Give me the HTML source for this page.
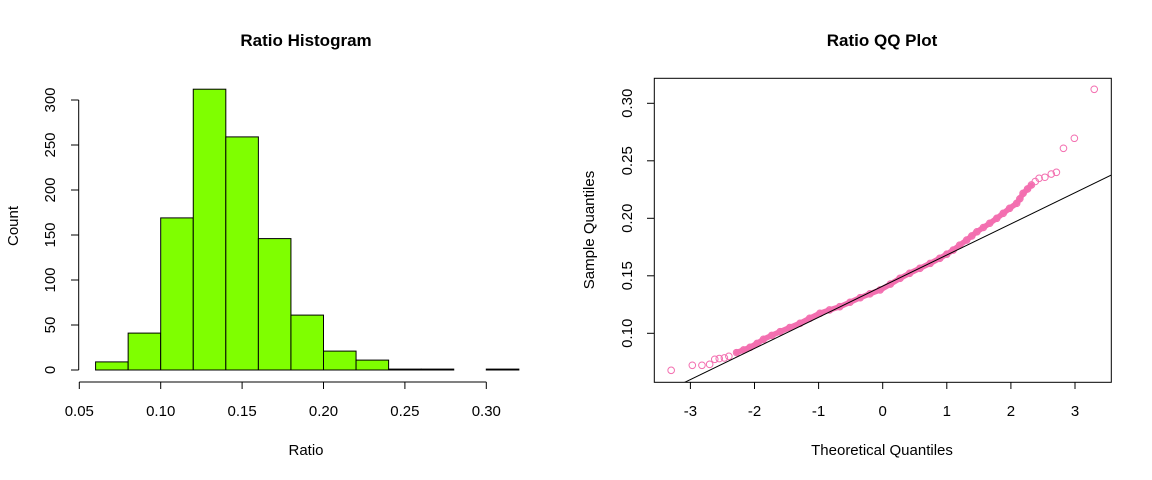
<!DOCTYPE html>
<html><head><meta charset="utf-8"><style>
html,body{margin:0;padding:0;background:#fff;}
svg{display:block;font-family:"Liberation Sans",Arial,sans-serif;}
</style></head><body>
<svg id="c" width="1152" height="480" xmlns="http://www.w3.org/2000/svg"></svg>
<script>
// ---- Histogram data ----
const binStarts = [0.06,0.08,0.10,0.12,0.14,0.16,0.18,0.20,0.22,0.24,0.26,0.28,0.30];
const binWidth = 0.02;
const binCounts = [9,41,169,312,259,146,61,21,11,1,1,0,1];
const histXTicks = [0.05,0.10,0.15,0.20,0.25,0.30];
const histXTickLabels = ["0.05","0.10","0.15","0.20","0.25","0.30"];
const histYTicks = [0,50,100,150,200,250,300];
// ---- QQ data ----
const qqTheo = [-3.30,-2.97,-2.82,-2.70,-2.62,-2.55,-2.47,-2.40,-2.28,-2.17,-2.07,-1.96,-1.86,-1.73,-1.60,-1.45,-1.29,-1.14,-0.98,-0.83,-0.67,-0.51,-0.35,-0.20,-0.04,0.12,0.27,0.42,0.58,0.74,0.89,1.00,1.10,1.20,1.31,1.39,1.47,1.57,1.67,1.78,1.88,1.98,2.09,2.14,2.19,2.26,2.32,2.38,2.44,2.53,2.63,2.71,2.82,2.99,3.30];
const qqSample = [0.0678,0.0722,0.0722,0.0730,0.0774,0.0780,0.0786,0.0800,0.0832,0.0855,0.0878,0.0912,0.0948,0.0982,0.1014,0.1050,0.1087,0.1130,0.1174,0.1203,0.1231,0.1270,0.1310,0.1343,0.1377,0.1428,0.1478,0.1522,0.1565,0.1608,0.1652,0.1688,0.1724,0.1766,0.1811,0.1847,0.1883,0.1920,0.1957,0.2000,0.2043,0.2087,0.2130,0.2170,0.2217,0.2255,0.2290,0.2320,0.2348,0.2357,0.2385,0.2400,0.2609,0.2696,0.3122];
const qqLineIntercept = 0.1410;
const qqLineSlope = 0.02708;
const qqXTicks = [-3,-2,-1,0,1,2,3];
const qqYTicks = [0.10,0.15,0.20,0.25,0.30];
const qqYTickLabels = ["0.10","0.15","0.20","0.25","0.30"];

const NS="http://www.w3.org/2000/svg";
const svg=document.getElementById('c');
function mk(tag,attrs,parent){const e=document.createElementNS(NS,tag);for(const k in attrs)e.setAttribute(k,attrs[k]);(parent||svg).appendChild(e);return e;}
function txt(s,x,y,attrs,parent){const t=mk('text',Object.assign({x:x,y:y,'text-anchor':'middle','font-size':'15','fill':'#000'},attrs||{}),parent);t.textContent=s;return t;}

// ===== Histogram =====
const hx=v=>79.3+(v-0.05)*1628;
const hy=v=>370-v*0.9;
const hg=mk('g',{});


let t=txt('Ratio Histogram',306,46,{'font-size':'17','font-weight':'bold'},hg);


binStarts.forEach((b,i)=>{
  const x0=hx(b),x1=hx(b+binWidth),y=hy(binCounts[i]);
  const r=mk('rect',{x:x0,y:y,width:x1-x0,height:Math.max(370-y,0),fill:'#7fff00',stroke:'#000','stroke-width':1},hg);
  
  
});
const hxa=mk('g',{},hg);


mk('line',{x1:hx(histXTicks[0]),x2:hx(histXTicks[histXTicks.length-1]),y1:382,y2:382,stroke:'#000'},hxa);
histXTicks.forEach((v,i)=>{mk('line',{x1:hx(v),x2:hx(v),y1:382,y2:389,stroke:'#000'},hxa);
  const l=txt(histXTickLabels[i],hx(v),416,{},hxa);
  
  });
t=txt('Ratio',306,455,{},hg);


const hya=mk('g',{},hg);


mk('line',{x1:78.7,x2:78.7,y1:hy(0),y2:hy(300),stroke:'#000'},hya);
histYTicks.forEach(v=>{mk('line',{x1:71,x2:78.7,y1:hy(v),y2:hy(v),stroke:'#000'},hya);
  const l=txt(String(v),55,hy(v),{transform:'rotate(-90 55 '+hy(v)+')'},hya);
  
  });
t=txt('Count',18,226,{transform:'rotate(-90 18 226)'},hg);



// ===== QQ plot =====
const qx=v=>882.7+v*64.1;
const qy=v=>333.3-(v-0.10)*1150;
const qg=mk('g',{});


t=txt('Ratio QQ Plot',882,46,{'font-size':'17','font-weight':'bold'},qg);


const clip=mk('clipPath',{id:'qc'},qg);mk('rect',{x:654.3,y:78.3,width:457,height:304},clip);
const inner=mk('g',{'clip-path':'url(#qc)'},qg);
const pts=[];qqTheo.forEach((v,i)=>{if(v>-2.3&&v<2.35)pts.push(qx(v)+','+qy(qqSample[i]));});
const band=mk('polyline',{points:pts.join(' '),fill:'none',stroke:'#f36fb0','stroke-width':5.5,'stroke-linejoin':'round','stroke-linecap':'round'},inner);


qqTheo.forEach((v,i)=>{
  const c=mk('circle',{cx:qx(v),cy:qy(qqSample[i]),r:3.3,fill:'none',stroke:'#f36fb0','stroke-width':1},inner);
  
  
});
const ql=mk('line',{x1:qx(-4),y1:qy(qqLineIntercept-4*qqLineSlope),x2:qx(4),y2:qy(qqLineIntercept+4*qqLineSlope),stroke:'#000','stroke-width':1},inner);


const box=mk('rect',{x:654.3,y:78.3,width:457,height:304,fill:'none',stroke:'#000'},qg);


const qxa=mk('g',{},qg);


qqXTicks.forEach(v=>{mk('line',{x1:qx(v),x2:qx(v),y1:382.3,y2:389,stroke:'#000'},qxa);
  const l=txt(String(v),qx(v),416,{},qxa);
  
  });
t=txt('Theoretical Quantiles',882,455,{},qg);


const qya=mk('g',{},qg);


qqYTicks.forEach((v,i)=>{mk('line',{x1:647,x2:654.3,y1:qy(v),y2:qy(v),stroke:'#000'},qya);
  const l=txt(qqYTickLabels[i],632,qy(v),{transform:'rotate(-90 632 '+qy(v)+')'},qya);
  
  });
t=txt('Sample Quantiles',594,230,{transform:'rotate(-90 594 230)'},qg);


</script>
</body></html>
